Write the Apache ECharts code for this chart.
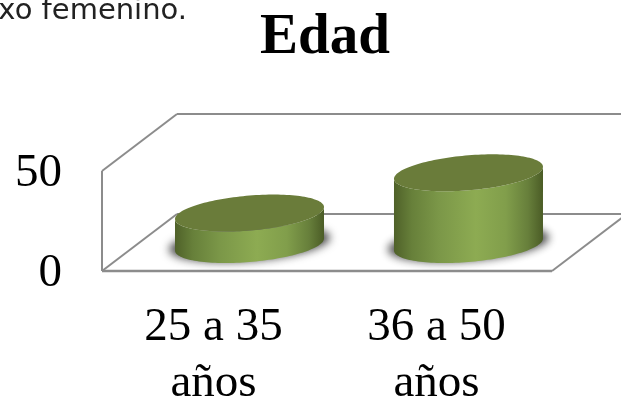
<!DOCTYPE html>
<html><head><meta charset="utf-8">
<style>html,body{margin:0;padding:0;background:#fff}#c{width:621px;height:401px}</style>
<script src="https://cdn.jsdelivr.net/npm/echarts@6/dist/echarts.min.js"></script>
</head><body><div id="c"></div>
<script>
const titleText = 'Edad';
const clippedText = 'sexo femenino.';
const categories = ['25 a 35 años', '36 a 50 años'];
const values = [16, 36.5];
const yMax = 50;

const chart = echarts.init(document.getElementById('c'), null, {renderer: 'canvas'});
const serif = '"Liberation Serif","Times New Roman",serif';
const depthX = 75, depthY = -57;       // back wall offset of the 3D box
const boxExtra = 4;                    // box front edge past the grid
const persp = 0.982, cylDX = 38, cylDY = -26.5;  // cylinder placement inside the box
const A = 74.5, B = 17.5, S = 6;       // tilted ellipse of the cylinder
const shadowShift = 3000;              // shadow caster sits off-canvas so only its blur shows

function ell(cx, cy, a, b, s, t0, t1, n) {
  const pts = [];
  for (let i = 0; i <= n; i++) {
    const t = t0 + (t1 - t0) * i / n;
    pts.push([cx + a * Math.cos(t), cy + b * Math.sin(t) - s * Math.cos(t)]);
  }
  return pts;
}
const bodyGrad = () => new echarts.graphic.LinearGradient(0, 0, 1, 0, [
  {offset: 0, color: '#4f6129'},
  {offset: 0.12, color: '#67803a'},
  {offset: 0.3, color: '#7b9748'},
  {offset: 0.55, color: '#8dab52'},
  {offset: 0.75, color: '#819e4b'},
  {offset: 0.9, color: '#677f3b'},
  {offset: 1, color: '#4b5c26'}
]);

function renderFrame(params, api) {
  if (params.dataIndex !== 0) return {type: 'group', children: []};
  const x0 = params.coordSys.x, x1 = params.coordSys.x + params.coordSys.width + boxExtra;
  const y0 = api.coord([0, 0])[1], yT = api.coord([0, yMax])[1];
  const lineStyle = {stroke: '#8c8c8c', lineWidth: 2, fill: null};
  const pl = (pts, w) => ({type: 'polyline', silent: true, shape: {points: pts},
    style: Object.assign({}, lineStyle, w ? {lineWidth: w} : {})});
  return {type: 'group', children: [
    pl([[x0 + depthX, y0 + depthY], [x1 + depthX, y0 + depthY]]),
    pl([[x0 + depthX, yT + depthY], [x1 + depthX, yT + depthY]]),
    pl([[x0, yT], [x0 + depthX, yT + depthY]]),
    pl([[x0, y0], [x0 + depthX, y0 + depthY]]),
    pl([[x1, y0], [x1 + depthX, y0 + depthY]]),
    pl([[x0, yT], [x0, y0]]),
    pl([[x0, y0], [x1, y0]], 2.6)
  ]};
}

function renderCyl(params, api) {
  const idx = api.value(0), v = api.value(1);
  const base = api.coord([idx, 0]), top = api.coord([idx, v]);
  const ox = params.coordSys.x;
  const cx = ox + (base[0] - ox) * persp + cylDX;
  const by = base[1] + cylDY;
  const ty = by - (base[1] - top[1]) * persp;
  const n = 72;
  const lower = ell(cx, by, A, B, S, Math.PI, 0, n);
  const upperBack = ell(cx, ty, A, B, S, 0, Math.PI, n);
  const body = lower.concat(upperBack);
  return {type: 'group', children: [
    {type: 'polygon', silent: true,
      shape: {points: ell(cx - shadowShift, by - 1, A + 6, B, S, 0, Math.PI * 2, n * 2)},
      style: {fill: '#555', shadowBlur: 9, shadowOffsetX: shadowShift, shadowColor: 'rgba(70,70,70,0.95)'}},
    {type: 'polygon', silent: true, shape: {points: body}, style: {fill: bodyGrad()}},
    {type: 'polygon', silent: true, shape: {points: ell(cx, ty, A, B, S, 0, Math.PI * 2, n * 2)},
      style: {fill: '#6a7c3a'}}
  ]};
}

chart.setOption({
  animation: false,
  backgroundColor: '#fff',
  title: {text: titleText, left: 320, top: 5, textAlign: 'center',
    textStyle: {fontFamily: serif, fontSize: 57, fontWeight: 'bold', color: '#000'}},
  graphic: [{type: 'text', x: 187, y: -3, style: {text: clippedText, align: 'right', verticalAlign: 'top',
    fontFamily: '"DejaVu Sans", sans-serif', fontSize: 29, fill: '#222'}}],
  grid: {left: 102, top: 171, width: 446, height: 100, outerBoundsMode: 'none'},
  xAxis: {type: 'category', data: categories, axisLine: {show: false}, axisTick: {show: false},
    axisLabel: {margin: 29, fontFamily: serif, fontSize: 47, color: '#000', lineHeight: 56, interval: 0,
      formatter: s => s.replace(' años', '\naños')}},
  yAxis: {type: 'value', min: 0, max: yMax, interval: yMax, axisLine: {show: false}, axisTick: {show: false},
    splitLine: {show: false},
    axisLabel: {margin: 40, formatter: '{v|{value}}',
      rich: {v: {padding: [6, 0, 0, 0], fontFamily: serif, fontSize: 47, color: '#000'}}}},
  series: [
    {type: 'custom', renderItem: renderFrame, clip: false, z: 1, data: values.map((v, i) => [i, v]), encode: {x: 0, y: 1}},
    {type: 'custom', renderItem: renderCyl, clip: false, z: 2, data: values.map((v, i) => [i, v]), encode: {x: 0, y: 1}}
  ]
});
</script></body></html>
